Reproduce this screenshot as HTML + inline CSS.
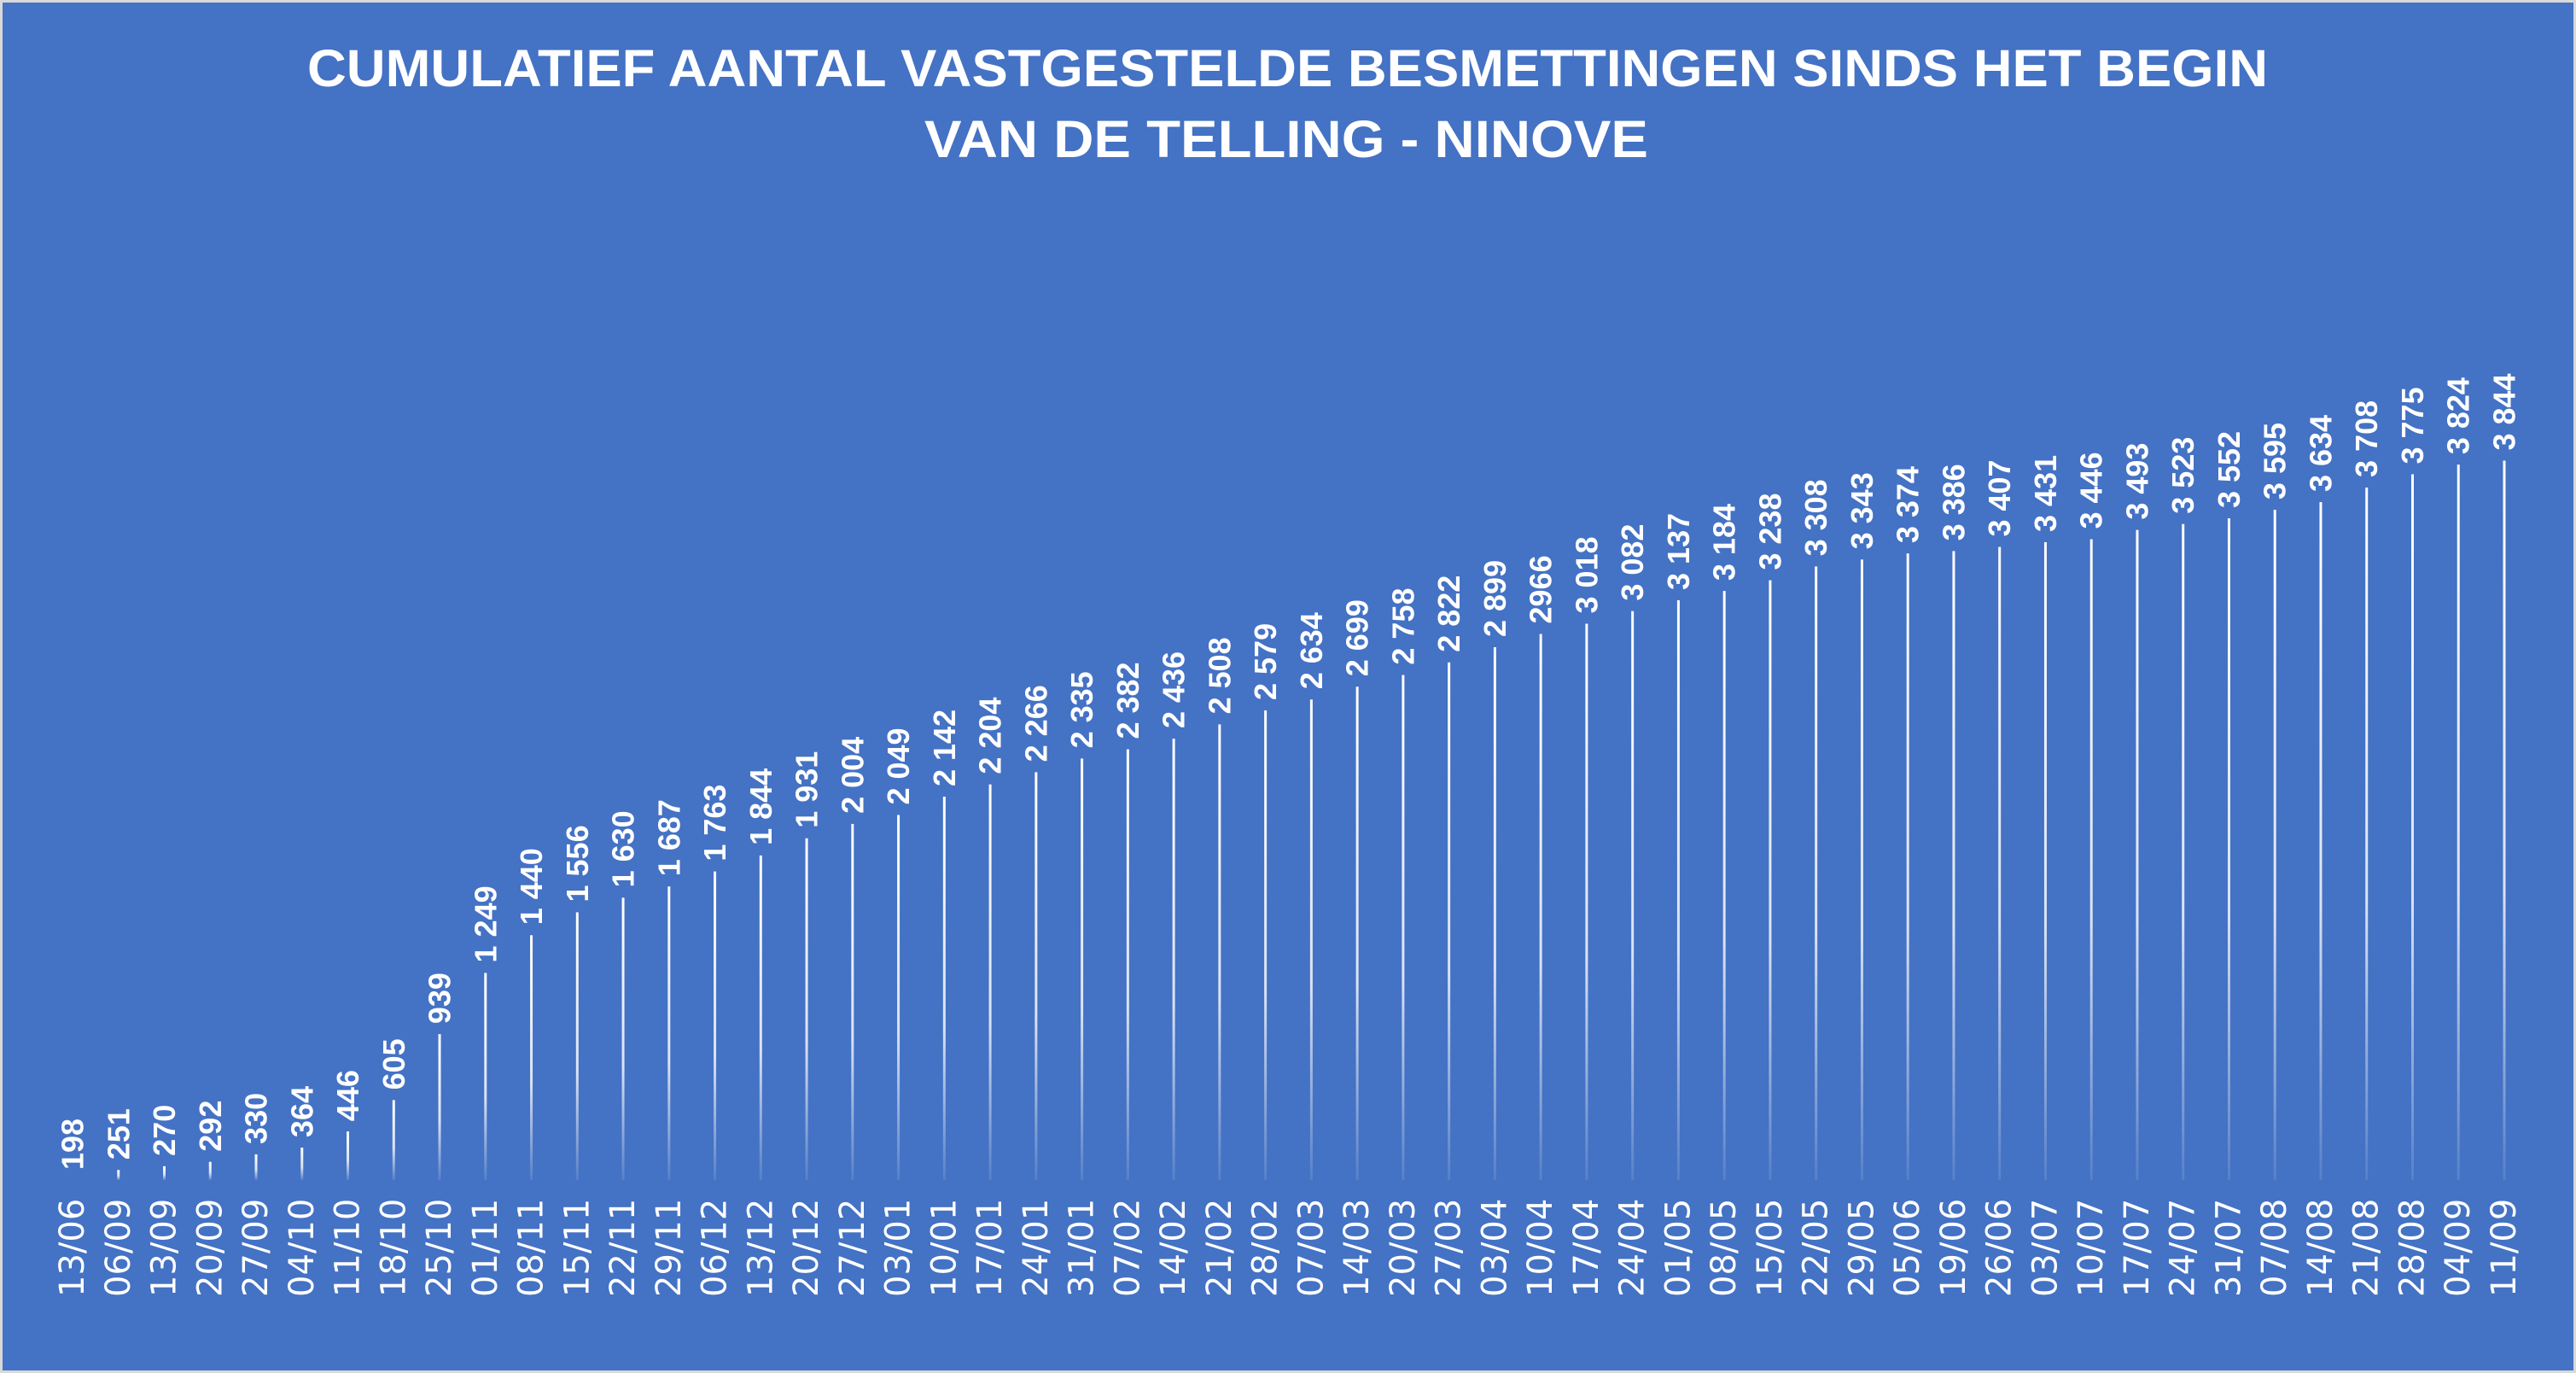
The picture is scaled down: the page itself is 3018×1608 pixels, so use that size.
<!DOCTYPE html>
<html><head><meta charset="utf-8"><style>
html,body{margin:0;padding:0;background:#fff}
svg{display:block}
</style></head><body>
<svg id="s" width="3018" height="1608" xmlns="http://www.w3.org/2000/svg">
<defs><linearGradient id="g" x1="0" y1="0" x2="0" y2="1"><stop offset="0" stop-color="#fff" stop-opacity="1"/><stop offset="0.6" stop-color="#fff" stop-opacity="0.8"/><stop offset="1" stop-color="#fff" stop-opacity="0.1"/></linearGradient></defs>
<rect x="0" y="0" width="3018" height="1608" fill="#d9d9d9"/>
<rect x="3" y="3" width="3012" height="1602" fill="#4472C4"/>
<text x="360" y="101" textLength="2297" lengthAdjust="spacingAndGlyphs" font-family="Liberation Sans, sans-serif" font-weight="bold" font-size="61" fill="#fff">CUMULATIEF AANTAL VASTGESTELDE BESMETTINGEN SINDS HET BEGIN</text>
<text x="1083" y="184" textLength="848" lengthAdjust="spacingAndGlyphs" font-family="Liberation Sans, sans-serif" font-weight="bold" font-size="61" fill="#fff">VAN DE TELLING - NINOVE</text>
<g id="bars"></g>
</svg>
<script>
(function(){
var d="13/06,06/09,13/09,20/09,27/09,04/10,11/10,18/10,25/10,01/11,08/11,15/11,22/11,29/11,06/12,13/12,20/12,27/12,03/01,10/01,17/01,24/01,31/01,07/02,14/02,21/02,28/02,07/03,14/03,20/03,27/03,03/04,10/04,17/04,24/04,01/05,08/05,15/05,22/05,29/05,05/06,19/06,26/06,03/07,10/07,17/07,24/07,31/07,07/08,14/08,21/08,28/08,04/09,11/09".split(",");
var v=[198,251,270,292,330,364,446,605,939,1249,1440,1556,1630,1687,1763,1844,1931,2004,2049,2142,2204,2266,2335,2382,2436,2508,2579,2634,2699,2758,2822,2899,2966,3018,3082,3137,3184,3238,3308,3343,3374,3386,3407,3431,3446,3493,3523,3552,3595,3634,3708,3775,3824,3844];
var h="";
for(var i=0;i<54;i++){
 var x=85+i*(2934-85)/53;
 var ht=Math.max(0,(v[i]-200)*0.2312);
 var tp=1382-ht;
 if(ht>0.5)h+='<rect x="'+(x-1.5)+'" y="'+tp+'" width="3" height="'+ht+'" fill="url(#g)"/>';
 var s=String(v[i]);
 var lab=(v[i]>=1000&&v[i]!=2966)?(s.charAt(0)+" "+s.slice(1)):s;
 var ly=tp-12;
 h+='<text transform="translate('+x+','+ly+') rotate(-90)" dominant-baseline="central" font-family="Liberation Sans, sans-serif" font-weight="bold" font-size="36" fill="#fff">'+lab+'</text>';
 h+='<text transform="translate('+x+',1519) rotate(-90)" dominant-baseline="central" font-family="DejaVu Sans, sans-serif" font-size="40" fill="#fff">'+d[i]+'</text>';
}
document.getElementById("bars").innerHTML=h;
})();
</script>
</body></html>
